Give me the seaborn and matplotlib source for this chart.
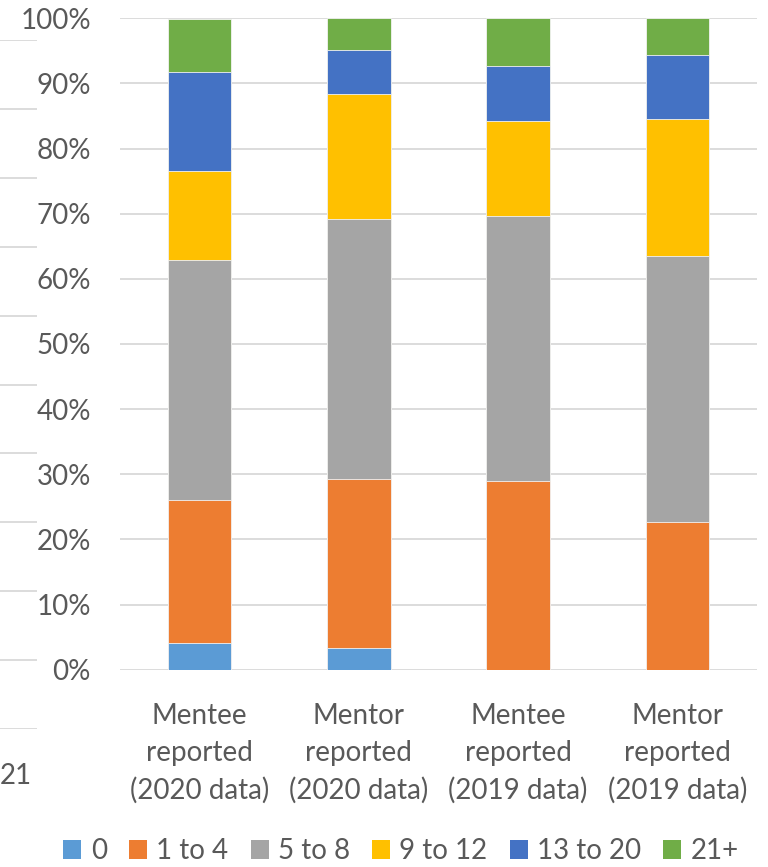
import matplotlib
matplotlib.use("Agg")
import matplotlib.pyplot as plt
import matplotlib.patches as mpatches
import seaborn as sns
import numpy as np
import pandas as pd

# ---- data (percent of respondents) ----
categories = ["Mentee\nreported\n(2020 data)", "Mentor\nreported\n(2020 data)",
              "Mentee\nreported\n(2019 data)", "Mentor\nreported\n(2019 data)"]
series_names = ["0", "1 to 4", "5 to 8", "9 to 12", "13 to 20", "21+"]
s_0 = [4.05, 3.3, 0.0, 0.0]
s_1_4 = [21.95, 25.9, 28.9, 22.7]
s_5_8 = [36.9, 40.0, 40.8, 40.8]
s_9_12 = [13.7, 19.2, 14.5, 21.0]
s_13_20 = [15.1, 6.8, 8.5, 9.9]
s_21p = [8.25, 4.8, 7.3, 5.6]
y_ticks = [0, 10, 20, 30, 40, 50, 60, 70, 80, 90, 100]
y_tick_labels = [f"{t}%" for t in y_ticks]
# fragment of the neighbouring chart visible at the left edge
frag_ticks = list(range(0, 11))
frag_label = "21"

colors = ["#5B9BD5", "#ED7D31", "#A5A5A5", "#FFC000", "#4472C4", "#70AD47"]
TXT = "#595959"
FONT = "Lato"

sns.set_theme(style="white")
plt.rcParams["font.family"] = [FONT, "DejaVu Sans"]

series = [s_0, s_1_4, s_5_8, s_9_12, s_13_20, s_21p]
cum = np.cumsum(np.array(series), axis=0)

fig = plt.figure(figsize=(7.68, 8.67), dpi=100)
W, H = 768, 867
left, right, top, bottom = 120, 757, 18.3, 669.7
ax = fig.add_axes([left / W, 1 - bottom / H, (right - left) / W, (bottom - top) / H])

# draw cumulative totals from the top segment down so lower segments overlay
for i in range(len(series) - 1, -1, -1):
    df = pd.DataFrame({"cat": categories, "val": cum[i]})
    sns.barplot(data=df, x="cat", y="val", color=colors[i], saturation=1,
                width=0.4, ax=ax, edgecolor="#f2f2f2", linewidth=0.6, zorder=3)

ax.set_ylim(0, 100)
ax.set_xlim(-0.5, len(categories) - 0.5)
ax.set_yticks(y_ticks)
ax.set_yticklabels(y_tick_labels)
ax.grid(axis="y", color="#d9d9d9", linewidth=1.3, zorder=0)
ax.grid(axis="x", visible=False)
ax.set_axisbelow(True)
for s in ax.spines.values():
    s.set_visible(False)
ax.set_xlabel("")
ax.set_ylabel("")
ax.tick_params(axis="y", length=0, pad=21, labelsize=20, labelcolor=TXT)
ax.tick_params(axis="x", length=0, pad=24, labelsize=20, labelcolor=TXT)
for lab in ax.get_xticklabels():
    lab.set_linespacing(1.5)

# fragment axes at the left edge
fx = fig.add_axes([0, 1 - 729.3 / H, 37 / W, (729.3 - 39.8) / H])
fx.set_ylim(0, 10)
fx.set_yticks(frag_ticks)
fx.set_yticklabels([])
fx.set_xlim(0, 1)
fx.set_xticks([0.43])
fx.set_xticklabels([frag_label])
fx.grid(axis="y", color="#d9d9d9", linewidth=1.3)
fx.grid(axis="x", visible=False)
for s in fx.spines.values():
    s.set_visible(False)
fx.tick_params(axis="both", length=0, labelsize=20, labelcolor=TXT)
fx.tick_params(axis="x", pad=24)
fx.patch.set_alpha(0)

handles = [mpatches.Patch(facecolor=c, edgecolor="none", label=n)
           for c, n in zip(colors, series_names)]
fig.legend(handles=handles, loc="center", bbox_to_anchor=(401 / W, 1 - 851 / H),
           ncol=6, frameon=False, fontsize=20, labelcolor=TXT,
           handlelength=0.65, handleheight=0.65, handletextpad=0.33,
           columnspacing=0.8, borderpad=0, borderaxespad=0)

fig.savefig("out.png", dpi=100)
